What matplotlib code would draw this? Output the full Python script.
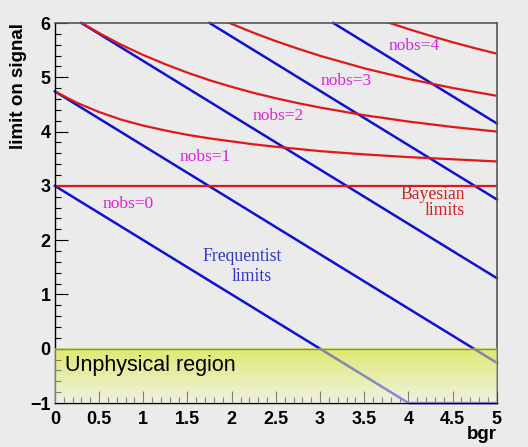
import numpy as np
import matplotlib
matplotlib.use("Agg")
import matplotlib.pyplot as plt
from matplotlib.ticker import MultipleLocator

# frequentist upper limits at bgr = 0 (straight lines, slope -1)
nobs = [0, 1, 2, 3, 4]
freq_at_zero = [3.00, 4.74, 6.30, 7.75, 9.15]

# bayesian upper limits
bgr_pts = [0.0, 0.25, 0.5, 0.75, 1.0, 1.25, 1.5, 1.75, 2.0, 2.25, 2.5, 2.75, 3.0, 3.5, 4.0, 4.5, 5.0]
bayes_0 = [3.00] * len(bgr_pts)
bayes_1 = [4.74, 4.53, 4.36, 4.22, 4.11, 4.02, 3.94, 3.875, 3.82, 3.765, 3.72, 3.68, 3.64, 3.58, 3.53, 3.49, 3.45]
bayes_2 = [6.30, 6.05, 5.815, 5.60, 5.41, 5.24, 5.085, 4.946, 4.824, 4.712, 4.614, 4.524, 4.443, 4.302, 4.185, 4.085, 4.00]
bayes_3 = [7.75, 7.50, 7.26, 7.01, 6.78, 6.56, 6.355, 6.16, 5.984, 5.818, 5.666, 5.527, 5.396, 5.166, 4.97, 4.803, 4.659]
bgr_pts_4 = [3.0, 3.25, 3.5, 3.75, 4.0, 4.25, 4.5, 4.75, 5.0]
bayes_4 = [6.48, 6.317, 6.165, 6.021, 5.888, 5.763, 5.646, 5.537, 5.435]

label_pos = [(0.83, 2.67), (1.70, 3.54), (2.53, 4.29), (3.30, 4.94), (4.06, 5.58)]

bg = "#ebebeb"
fig = plt.figure(figsize=(5.28, 4.47), dpi=100, facecolor=bg)
ax = fig.add_axes([0.104, 0.0984, 0.837, 0.8501])
ax.set_facecolor(bg)

# gradient for the unphysical region
top_c = np.array([222, 233, 112]) / 255.
bot_c = np.array([240, 241, 228]) / 255.
t = np.linspace(0, 1, 64)[:, None]
grad = top_c[None, :] * (1 - t) + bot_c[None, :] * t
grad = grad[:, None, :]
ax.imshow(grad, extent=[0, 5, -1, 0], aspect="auto", zorder=1, interpolation="bilinear")

for s0 in freq_at_zero:
    bx = np.linspace(max(0.0, s0 - 6.0), 5, 300)
    ax.plot(bx, np.maximum(s0 - bx, -1), color="#1010d0", lw=1.8, zorder=2, clip_on=False)
for b in [bayes_0, bayes_1, bayes_2, bayes_3]:
    ax.plot(bgr_pts, b, color="#e01818", lw=1.6, zorder=2)
ax.plot(bgr_pts_4, bayes_4, color="#e01818", lw=1.6, zorder=2)

# semi transparent overlay so the lines look faded inside the region
rgba = np.concatenate([grad, np.full((64, 1, 1), 0.55)], axis=2)
ax.imshow(rgba, extent=[0, 5, -1, 0], aspect="auto", zorder=3, interpolation="bilinear")
ax.axhline(0, color="#8a8a60", lw=1.0, zorder=4)

serif = "Liberation Serif"
for n, (x, y) in zip(nobs, label_pos):
    ax.text(x, y, "nobs=%d" % n, color="#dd22dd", fontsize=12.5, family=serif,
            ha="center", va="center", zorder=5)

ax.text(4.64, 2.85, "Bayesian", color="#cc2222", fontsize=12.7, family=serif,
        ha="right", va="center", zorder=5)
ax.text(4.64, 2.55, "limits", color="#cc2222", fontsize=12.7, family=serif,
        ha="right", va="center", zorder=5)
ax.text(2.12, 1.69, "Frequentist", color="#3333cc", fontsize=12.7, family=serif,
        ha="center", va="center", zorder=5)
ax.text(2.23, 1.33, "limits", color="#3333cc", fontsize=12.7, family=serif,
        ha="center", va="center", zorder=5)
ax.text(0.11, -0.31, "Unphysical region", color="black", fontsize=15.5, family="Liberation Sans",
        ha="left", va="center", zorder=5)

ax.set_xlim(0, 5)
ax.set_ylim(-1, 6)
ax.xaxis.set_minor_locator(MultipleLocator(0.1))
ax.yaxis.set_minor_locator(MultipleLocator(0.2))
ax.tick_params(which="both", direction="in", top=False, right=False)
ax.tick_params(which="major", length=9, width=0.8)
ax.tick_params(which="minor", length=4.5, width=0.8)
ax.set_xticks(np.arange(0, 5.01, 0.5))
ax.set_xticklabels(["0", "0.5", "1", "1.5", "2", "2.5", "3", "3.5", "4", "4.5", "5"],
                   family="Liberation Sans", weight="bold", fontsize=13)
ax.set_yticks(np.arange(-1, 6.01, 1))
ax.set_yticklabels(["\u22121", "0", "1", "2", "3", "4", "5", "6"],
                   family="Liberation Sans", weight="bold", fontsize=13)
ax.tick_params(axis="x", pad=6)
ax.tick_params(axis="y", pad=3)

for side in ["left", "bottom"]:
    ax.spines[side].set_color("black")
    ax.spines[side].set_linewidth(1.0)
for side in ["top", "right"]:
    ax.spines[side].set_color("#555555")
    ax.spines[side].set_linewidth(1.2)

ax.set_xlabel("bgr", family="Liberation Sans", weight="bold", fontsize=13.5, loc="right", labelpad=-2)
ax.set_ylabel("limit on signal", family="Liberation Sans", weight="bold", fontsize=13.5, loc="top", labelpad=2)

fig.savefig("out.png", dpi=100, facecolor=bg)
